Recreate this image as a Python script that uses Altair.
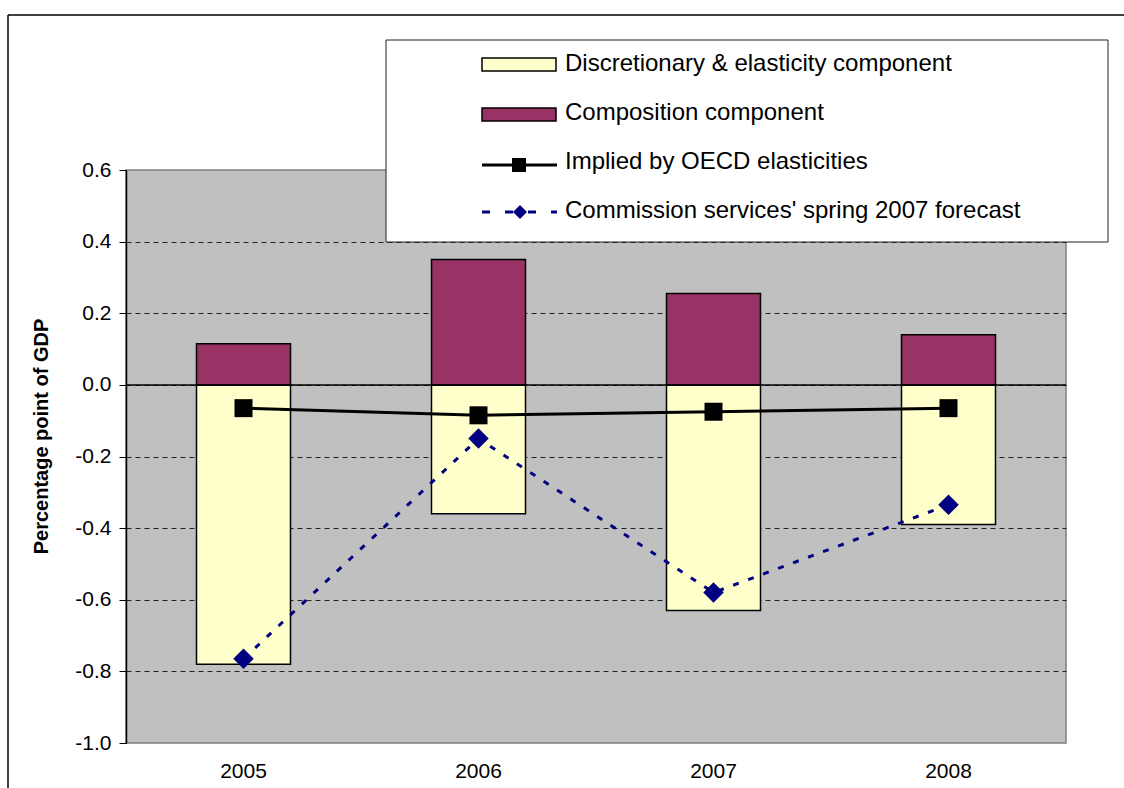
import altair as alt
import pandas as pd

# Budget balance components, percentage point of GDP
years = ["2005", "2006", "2007", "2008"]
discretionary = [-0.78, -0.36, -0.63, -0.39]
composition = [0.115, 0.35, 0.255, 0.14]
oecd_implied = [-0.065, -0.085, -0.075, -0.065]
commission_forecast = [-0.765, -0.15, -0.58, -0.335]

legend_labels = [
    "Discretionary & elasticity component",
    "Composition component",
    "Implied by OECD elasticities",
    "Commission services' spring 2007 forecast",
]

y_ticks = [0.6, 0.4, 0.2, 0.0, -0.2, -0.4, -0.6, -0.8, -1.0]

YELLOW = "#FFFFCC"
PURPLE = "#993366"
NAVY = "#000080"
FONT = "Liberation Sans"

bars = pd.DataFrame({
    "year": years * 2,
    "value": discretionary + composition,
    "component": [legend_labels[0]] * 4 + [legend_labels[1]] * 4,
})
lines = pd.DataFrame({
    "year": years,
    "oecd": oecd_implied,
    "commission": commission_forecast,
})

x_enc = alt.X(
    "year:N",
    sort=years,
    scale=alt.Scale(paddingInner=0.6, paddingOuter=0.3),
    axis=alt.Axis(
        title=None, domain=False, ticks=False, labelAngle=0,
        labelFontSize=21, labelPadding=17, labelColor="#000", labelFont=FONT,
    ),
)
y_scale = alt.Scale(domain=[-1.0, 0.6], nice=False, zero=False)

bar_layer = alt.Chart(bars).mark_bar(stroke="#000", strokeWidth=1.5).encode(
    x=x_enc,
    y=alt.Y(
        "value:Q",
        stack=None,
        scale=y_scale,
        axis=alt.Axis(
            values=y_ticks,
            labelExpr="replace(format(datum.value, '.1f'), '\u2212', '-')",
            labelFontSize=21, labelFont=FONT, labelColor="#000", labelPadding=8,
            tickSize=7, tickColor="#000", tickWidth=1,
            domainColor="#000", domainWidth=1.5,
            grid=True, gridColor="#222", gridDash=[5, 4], gridWidth=1,
            gridOpacity={"condition": {"test": "datum.value > 0.5 || datum.value < -0.9", "value": 0}, "value": 1},
            title="Percentage point of GDP",
            titleFontSize=20, titleFontWeight="bold", titleFont=FONT, titleColor="#000",
            titleAngle=270, titleX=-85, titleY=266, titleAlign="center", titleBaseline="middle",
        ),
    ),
    color=alt.Color(
        "component:N",
        scale=alt.Scale(domain=legend_labels[:2], range=[YELLOW, PURPLE]),
        legend=None,
    ),
)

zero_line = alt.Chart(alt.Data(values=[{}])).mark_rule(color="#000", strokeWidth=1.5).encode(
    y=alt.datum(0, scale=y_scale)
)

oecd_layer = alt.Chart(lines).mark_line(
    color="#000", strokeWidth=3,
    point=alt.OverlayMarkDef(shape="square", size=324, filled=True, color="#000", opacity=1),
).encode(x=alt.X("year:N", sort=years), y=alt.Y("oecd:Q", scale=y_scale))

commission_layer = alt.Chart(lines).mark_line(
    color=NAVY, strokeWidth=3, strokeDash=[6, 10],
    point=alt.OverlayMarkDef(shape="diamond", size=420, filled=True, color=NAVY, opacity=1),
).encode(x=alt.X("year:N", sort=years), y=alt.Y("commission:Q", scale=y_scale))

one = alt.Data(values=[{}])

# Legend box and its entries (positions in pixels relative to the plot area)
lg_box = alt.Chart(one).mark_rect(fill="#fff", stroke="#222", strokeWidth=1).encode(
    x=alt.value(260), x2=alt.value(982), y=alt.value(-130), y2=alt.value(72)
)
lg_sw1 = alt.Chart(one).mark_rect(fill=YELLOW, stroke="#000", strokeWidth=1.5).encode(
    x=alt.value(356), x2=alt.value(430), y=alt.value(-112), y2=alt.value(-99)
)
lg_sw2 = alt.Chart(one).mark_rect(fill=PURPLE, stroke="#000", strokeWidth=1.5).encode(
    x=alt.value(356), x2=alt.value(430), y=alt.value(-62), y2=alt.value(-49)
)
lg_line3 = alt.Chart(one).mark_rule(color="#000", strokeWidth=3).encode(
    x=alt.value(356), x2=alt.value(431), y=alt.value(-5)
)
lg_pt3 = alt.Chart(one).mark_point(shape="square", size=196, filled=True, color="#000", opacity=1).encode(
    x=alt.value(393), y=alt.value(-5)
)
lg_line4 = alt.Chart(one).mark_rule(color=NAVY, strokeWidth=3, strokeDash=[8, 15]).encode(
    x=alt.value(356), x2=alt.value(431), y=alt.value(42)
)
lg_pt4 = alt.Chart(one).mark_point(shape="diamond", size=196, filled=True, color=NAVY, opacity=1).encode(
    x=alt.value(394), y=alt.value(42)
)

legend_text = [
    alt.Chart(one).mark_text(align="left", baseline="middle", fontSize=24, font=FONT, color="#000").encode(
        x=alt.value(439), y=alt.value(ypos), text=alt.value(label)
    )
    for label, ypos in zip(legend_labels, [-106, -57, -8, 41])
]

# Chart frame (top and left edges)
frame_top = alt.Chart(one).mark_rule(color="#000", strokeWidth=1.5).encode(
    x=alt.value(-118), x2=alt.value(998), y=alt.value(-155)
)
frame_left = alt.Chart(one).mark_rule(color="#000", strokeWidth=1.5).encode(
    x=alt.value(-118), y=alt.value(-155), y2=alt.value(620)
)

chart = alt.layer(
    bar_layer, zero_line, oecd_layer, commission_layer,
    lg_box, lg_sw1, lg_sw2, lg_line3, lg_pt3, lg_line4, lg_pt4, *legend_text,
    frame_top, frame_left,
).properties(
    width=940,
    height=573,
    autosize=alt.AutoSizeParams(type="none"),
    padding={"left": 126, "top": 170, "right": 58, "bottom": 45},
    background="#ffffff",
).configure(
    font=FONT
).configure_view(
    fill="#C0C0C0", stroke="#808080", strokeWidth=1.5
)

chart.save("out.html", embed_options={"renderer": "svg", "actions": False})
